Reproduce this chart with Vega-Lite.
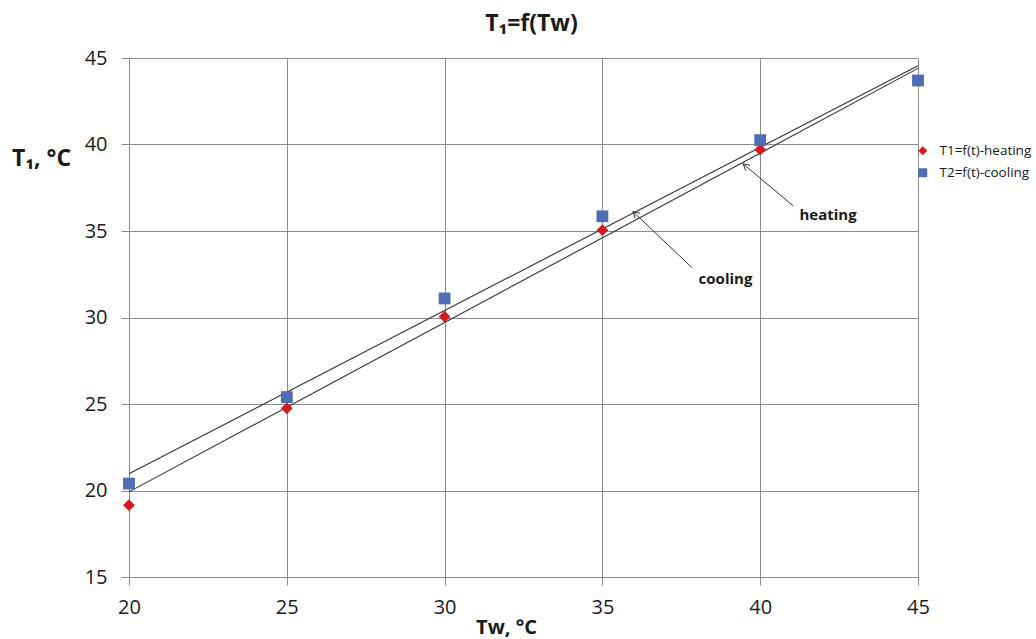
{
  "$schema": "https://vega.github.io/schema/vega-lite/v6.json",
  "width": 789,
  "height": 519,
  "autosize": {"type": "none"},
  "padding": {"left": 129, "top": 58, "right": 118, "bottom": 62},
  "background": "white",
  "title": {
    "text": "T₁=f(Tw)",
    "font": "Open Sans",
    "fontSize": 23,
    "fontWeight": "bold",
    "color": "#1a1a1a",
    "anchor": "middle",
    "offset": 12,
    "dx": 8
  },
  "config": {
    "view": {"stroke": null},
    "font": "Open Sans",
    "axis": {
      "grid": true,
      "gridColor": "#8c8c8c",
      "gridWidth": 1,
      "domainColor": "#8c8c8c",
      "tickColor": "#8c8c8c",
      "tickSize": 8,
      "labelFont": "Open Sans",
      "labelFontSize": 20,
      "labelColor": "#1a1a1a",
      "labelFlush": false,
      "titleFont": "Open Sans",
      "titleFontWeight": "bold",
      "titleColor": "#1a1a1a"
    },
    "legend": {"padding": 0}
  },
  "datasets": {
    "pts": [
      {"Tw": 20, "T": 19.15, "series": "T1=f(t)-heating"},
      {"Tw": 25, "T": 24.75, "series": "T1=f(t)-heating"},
      {"Tw": 30, "T": 30.05, "series": "T1=f(t)-heating"},
      {"Tw": 35, "T": 35.05, "series": "T1=f(t)-heating"},
      {"Tw": 40, "T": 39.7, "series": "T1=f(t)-heating"},
      {"Tw": 20, "T": 20.4, "series": "T2=f(t)-cooling"},
      {"Tw": 25, "T": 25.4, "series": "T2=f(t)-cooling"},
      {"Tw": 30, "T": 31.1, "series": "T2=f(t)-cooling"},
      {"Tw": 35, "T": 35.85, "series": "T2=f(t)-cooling"},
      {"Tw": 40, "T": 40.25, "series": "T2=f(t)-cooling"},
      {"Tw": 45, "T": 43.7, "series": "T2=f(t)-cooling"}
    ],
    "trend": [
      {"Tw": 20, "T": 20.97, "line": "cooling"},
      {"Tw": 45, "T": 44.55, "line": "cooling"},
      {"Tw": 20, "T": 19.92, "line": "heating"},
      {"Tw": 45, "T": 44.4, "line": "heating"}
    ],
    "arrows": [
      {"x1": 37.84, "y1": 32.88, "x2": 35.97, "y2": 36.12, "ang": 313, "label": "cooling", "lx": 38.9, "ly": 32.25},
      {"x1": 41.04, "y1": 36.46, "x2": 39.46, "y2": 38.88, "ang": 310, "label": "heating", "lx": 42.15, "ly": 35.94}
    ]
  },
  "layer": [
    {
      "data": {"name": "trend"},
      "mark": {"type": "line", "color": "#333333", "strokeWidth": 1.1},
      "encoding": {
        "x": {
          "field": "Tw", "type": "quantitative",
          "scale": {"domain": [20, 45], "nice": false, "zero": false},
          "axis": {"values": [20, 25, 30, 35, 40, 45], "title": "Tw, °C", "titleFontSize": 20, "labelPadding": 12, "titlePadding": 0, "titleX": 377}
        },
        "y": {
          "field": "T", "type": "quantitative",
          "scale": {"domain": [15, 45], "nice": false, "zero": false},
          "axis": {"values": [15, 20, 25, 30, 35, 40, 45], "title": "T₁, °C", "titleFontSize": 23, "titleAngle": 0, "titleAlign": "center", "titleBaseline": "middle", "titleX": -88, "titleY": 100, "labelPadding": 14}
        },
        "detail": {"field": "line"}
      }
    },
    {
      "data": {"name": "arrows"},
      "mark": {"type": "rule", "color": "#333333", "strokeWidth": 1},
      "encoding": {
        "x": {"field": "x1", "type": "quantitative"},
        "y": {"field": "y1", "type": "quantitative"},
        "x2": {"field": "x2"},
        "y2": {"field": "y2"}
      }
    },
    {
      "data": {"name": "arrows"},
      "mark": {"type": "point", "shape": "M -0.55 1 L 0 0 L 0.55 1", "filled": false, "color": "#333333", "strokeWidth": 1, "size": 150, "opacity": 1},
      "encoding": {
        "x": {"field": "x2", "type": "quantitative"},
        "y": {"field": "y2", "type": "quantitative"},
        "angle": {"field": "ang", "type": "quantitative", "scale": null}
      }
    },
    {
      "data": {"name": "arrows"},
      "mark": {"type": "text", "font": "Open Sans", "fontSize": 15, "fontWeight": "bold", "color": "#1a1a1a"},
      "encoding": {
        "x": {"field": "lx", "type": "quantitative"},
        "y": {"field": "ly", "type": "quantitative"},
        "text": {"field": "label"}
      }
    },
    {
      "data": {"name": "pts"},
      "mark": {"type": "point", "filled": true, "opacity": 1, "size": 140},
      "encoding": {
        "x": {"field": "Tw", "type": "quantitative"},
        "y": {"field": "T", "type": "quantitative"},
        "shape": {
          "field": "series", "type": "nominal",
          "scale": {"domain": ["T1=f(t)-heating", "T2=f(t)-cooling"], "range": ["diamond", "square"]},
          "legend": {
            "title": null,
            "orient": "none",
            "legendX": 787,
            "legendY": 86,
            "labelFont": "Open Sans",
            "labelFontSize": 13.5,
            "labelColor": "#1a1a1a",
            "rowPadding": 7,
            "symbolSize": 80,
            "labelOffset": 10
          }
        },
        "color": {
          "field": "series", "type": "nominal",
          "scale": {"domain": ["T1=f(t)-heating", "T2=f(t)-cooling"], "range": ["#d7191c", "#4f6db5"]},
          "legend": {
            "title": null,
            "orient": "none",
            "legendX": 787,
            "legendY": 86,
            "labelFont": "Open Sans",
            "labelFontSize": 13.5,
            "labelColor": "#1a1a1a",
            "rowPadding": 7,
            "symbolSize": 80,
            "labelOffset": 10
          }
        }
      }
    }
  ]
}
